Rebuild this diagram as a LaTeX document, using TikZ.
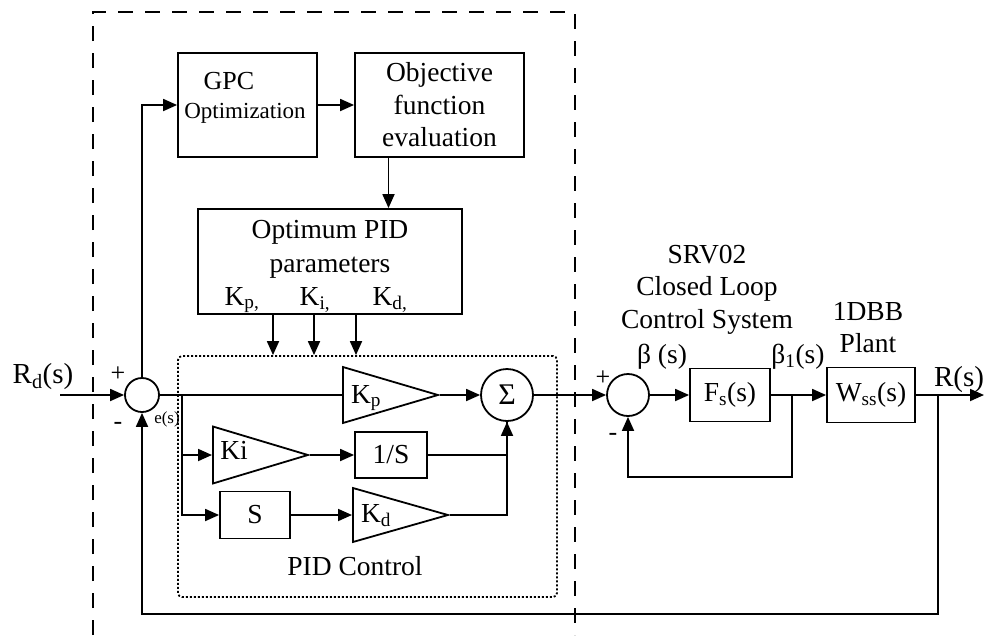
\documentclass[tikz,border=0pt]{standalone}
\usepackage{fontspec}
\setmainfont{Liberation Serif}
\usetikzlibrary{arrows.meta,shapes.geometric}

\newcommand{\mainfs}{\fontsize{27.5}{32.5}\selectfont}
\newcommand{\midfs}{\fontsize{23}{28}\selectfont}
\newcommand{\tinyfs}{\fontsize{17}{20}\selectfont}

\tikzset{
  wire/.style={line width=1.8pt},
  arr/.style={wire, -{Triangle[length=14pt,width=12pt]}},
  block/.style={draw, wire, inner sep=0pt, align=center, font=\mainfs},
  gain/.style={draw, wire, isosceles triangle, isosceles triangle stretches,
    minimum height=95pt, minimum width=56pt, inner sep=0pt, anchor=west},
  sumjn/.style={draw, wire, circle, inner sep=0pt},
  txt/.style={inner sep=0pt, anchor=base, font=\mainfs},
  sgn/.style={txt, font=\fontsize{26}{28}\selectfont},
}

\begin{document}
\begin{tikzpicture}[x=1pt, y=-1pt]
    \useasboundingbox (0,0) rectangle (987,635);
    \draw[wire, dash pattern=on 15pt off 12pt] (93,635) |- (575,12) -- (575,635);

    % optimizer blocks
    \node[block, minimum width=139pt, minimum height=104pt] (gpc) at (247.5,105) {};
    \node[txt, font=\fontsize{26}{30}\selectfont] (gpct) at (229,89) {GPC};
    \node[txt, font=\midfs] (gpco) at (245,118) {Optimization};
    \node[block, minimum width=169pt, minimum height=104pt] (obj) at (439.5,105) {Objective\\function\\evaluation};
    \node[block, minimum width=264pt, minimum height=105pt] (opt) at (330,261.5) {};
    \node[txt] (optt) at (330,238) {Optimum PID};
    \node[txt] (optp) at (330,272) {parameters};
    \node[txt] (kpl) at (242,305) {K\textsubscript{p,}};
    \node[txt] (kil) at (315,305) {K\textsubscript{i,}};
    \node[txt] (kdl) at (390,305) {K\textsubscript{d,}};

    % PID controller
    \node[draw, wire, dash pattern=on 2pt off 2pt, rounded corners=4pt,
      minimum width=379pt, minimum height=241pt] (pid) at (367.5,476.5) {};
    \node[txt] (pidl) at (355,575) {PID Control};
    \node[sumjn, minimum size=34pt] (sj1) at (142,395) {};
    \node[gain] (kp) at (342,395) {};
    \node[txt] (kpt) at (366,403) {K\textsubscript{p}};
    \node[gain, minimum width=57pt] (ki) at (212,455) {};
    \node[txt] (kit) at (234,459) {Ki};
    \node[gain, minimum width=54pt] (kd) at (352,515) {};
    \node[txt] (kdt) at (376,522) {K\textsubscript{d}};
    \node[block, minimum width=72pt, minimum height=46pt] (inv) at (391,455) {1/S};
    \node[block, minimum width=70pt, minimum height=47pt] (der) at (255,515) {S};
    \node[sumjn, minimum size=52pt, font=\fontsize{30}{30}\selectfont] (sig) at (507,395) {Σ};

    % servo loop and plant
    \node[sumjn, minimum size=42pt] (sj2) at (628,395) {};
    \node[block, minimum width=80pt, minimum height=53pt] (fs) at (730,395) {F\textsubscript{s}(s)};
    \node[block, minimum width=88pt, minimum height=55pt] (ws) at (871,395) {W\textsubscript{ss}(s)};
    \node[txt] (srv1) at (707,263) {SRV02};
    \node[txt] (srv2) at (707,295) {Closed Loop};
    \node[txt] (srv3) at (707,328) {Control System};
    \node[txt] (dbb1) at (868,320) {1DBB};
    \node[txt] (dbb2) at (868,352) {Plant};
    \node[txt] (betal) at (662,363) {β (s)};
    \node[txt] (beta1l) at (798,363) {β\textsubscript{1}(s)};
    \node[txt, font=\fontsize{29}{33}\selectfont] (routl) at (959,386) {R(s)};
    \node[txt, font=\fontsize{29}{33}\selectfont] (rdl) at (43,383) {R\textsubscript{d}(s)};
    \node[sgn] (pl1) at (118,381) {+};
    \node[sgn] (mi1) at (118,429) {-};
    \node[txt, font=\tinyfs] (errl) at (167,423) {e(s)};
    \node[sgn] (pl2) at (603,385) {+};
    \node[sgn] (mi2) at (613,440) {-};

    \coordinate (rdin) at (60,395);
    \coordinate (br1) at (182,395);
    \coordinate (br2) at (792,395);
    \coordinate (fb2) at (792,477);
    \coordinate (br3) at (938,395);
    \coordinate (fb1) at (938,614);
    \coordinate (rout) at (984,395);
    \coordinate (objout) at ([xshift=-51pt]obj.south);

    \draw[arr] (rdin) -- (sj1.west);
    \draw[arr] (sj1.north) |- (gpc.west);
    \draw[arr] (gpc.east) -- (obj.west);
    \draw[arr] (objout) -- (objout |- opt.north);
    \foreach \px in {273,314,356}
        \draw[arr] (opt.south -| \px,0) -- (pid.north -| \px,0);
    \draw[wire] (sj1.east) -- (kp.west);
    \draw[arr] (kp.apex) -- (sig.west);
    \draw[arr] (br1) |- (ki.west);
    \draw[arr] (br1) |- (der.west);
    \draw[arr] (ki.apex) -- (inv.west);
    \draw[arr] (der.east) -- (kd.west);
    \draw[arr] (inv.east) -| (sig.south);
    \draw[wire] (kd.apex) -| (sig.south);
    \draw[arr] (sig.east) -- (sj2.west);
    \draw[arr] (sj2.east) -- (fs.west);
    \draw[arr] (fs.east) -- (ws.west);
    \draw[arr] (br2) -- (fb2) -| (sj2.south);
    \draw[arr] (ws.east) -- (rout);
    \draw[arr] (br3) -- (fb1) -| (sj1.south);
\end{tikzpicture}
\end{document}
